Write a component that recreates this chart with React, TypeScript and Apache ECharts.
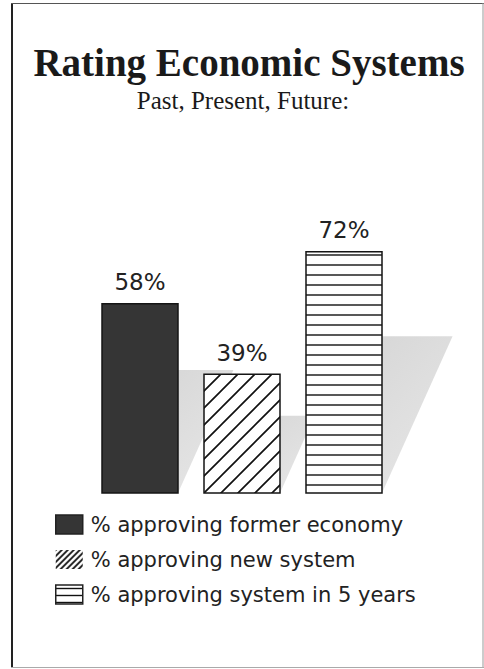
import React, { useEffect, useRef } from 'react';
import * as echarts from 'echarts';

const categories = ['Past', 'Present', 'Future'];
const seriesNames = [
  '% approving former economy',
  '% approving new system',
  '% approving system in 5 years',
];
const values = [58, 39, 72];
const titleText = 'Rating Economic Systems';
const subtitleText = 'Past, Present, Future:';

const AXIS_MIN = 7;
const AXIS_MAX = 80;
const BAR_W = 76;

type Pat = { image: HTMLCanvasElement; repeat: string; imageWidth: number; imageHeight: number };

function makePattern(size: number, kind: 'h' | 'd', lw: number): Pat {
  const c = document.createElement('canvas');
  c.width = size;
  c.height = size;
  const ctx = c.getContext('2d')!;
  ctx.fillStyle = '#ffffff';
  ctx.fillRect(0, 0, size, size);
  ctx.strokeStyle = '#111111';
  ctx.lineWidth = lw;
  ctx.beginPath();
  if (kind === 'h') {
    ctx.moveTo(0, size / 2);
    ctx.lineTo(size, size / 2);
  } else {
    ctx.moveTo(0, size);
    ctx.lineTo(size, 0);
    ctx.moveTo(-size, size);
    ctx.lineTo(size, -size);
    ctx.moveTo(0, 2 * size);
    ctx.lineTo(2 * size, 0);
  }
  ctx.stroke();
  return { image: c, repeat: 'repeat', imageWidth: size, imageHeight: size };
}

export default function App() {
  const ref = useRef<HTMLDivElement>(null);

  useEffect(() => {
    if (!ref.current) return;
    document.body.style.margin = '0';
    const chart = echarts.init(ref.current, undefined, { renderer: 'svg' });

    const barFills: any[] = ['#353535', makePattern(17, 'd', 1.7), makePattern(10, 'h', 1.4)];
    const legendFills: any[] = ['#353535', makePattern(6, 'd', 1.8), makePattern(7, 'h', 1.4)];

    const series = seriesNames.map((name, i) => ({
      type: 'custom',
      name,
      silent: true,
      itemStyle: { color: legendFills[i] },
      encode: { x: 0, y: 1 },
      data: [[i, values[i]]],
      renderItem: (params: any, api: any) => {
        const ci = api.value(0);
        const v = api.value(1);
        const top = api.coord([ci, v]);
        const bot = api.coord([ci, AXIS_MIN]);
        const L = top[0] - BAR_W / 2;
        const h = bot[1] - top[1];
        const sh = h * 0.65;
        const dx = sh * 0.45;
        return {
          type: 'group',
          children: [
            {
              type: 'polygon',
              shape: {
                points: [
                  [L, bot[1]],
                  [L + BAR_W, bot[1]],
                  [L + BAR_W + dx, bot[1] - sh],
                  [L + dx, bot[1] - sh],
                ],
              },
              style: {
                fill: new echarts.graphic.LinearGradient(0, 0, 1, 1, [
                  { offset: 0, color: '#d2d2d2' },
                  { offset: 1, color: '#e8e8e8' },
                ]),
              },
            },
            {
              type: 'rect',
              shape: { x: L, y: top[1], width: BAR_W, height: h },
              style: { fill: barFills[i], stroke: '#151515', lineWidth: 1.5 },
            },
            {
              type: 'text',
              x: top[0],
              y: top[1] - 10,
              style: {
                text: v + '%',
                align: 'center',
                verticalAlign: 'bottom',
                fontSize: 23,
                fontFamily: 'DejaVu Sans',
                fill: '#222',
              },
            },
          ],
        };
      },
    }));

    chart.setOption({
      animation: false,
      grid: { left: 89, right: 89, top: 222, bottom: 176 },
      xAxis: { type: 'category', data: categories, show: false },
      yAxis: { type: 'value', min: AXIS_MIN, max: AXIS_MAX, show: false },
      legend: {
        orient: 'vertical',
        left: 50,
        top: 509,
        itemWidth: 27,
        itemHeight: 19,
        itemGap: 14,
        selectedMode: false,
        icon: 'rect',
        data: seriesNames.map((n, i) => ({
          name: n,
          itemStyle: {
            color: legendFills[i],
            borderColor: '#222',
            borderWidth: i === 1 ? 0 : 1.5,
          },
        })),
        textStyle: { fontSize: 21, fontFamily: 'DejaVu Sans', color: '#222', padding: [0, 0, 0, 3] },
      },
      graphic: [
        { type: 'line', shape: { x1: 12, y1: 3, x2: 12, y2: 668 }, style: { stroke: '#222', lineWidth: 2 } },
        { type: 'line', shape: { x1: 11, y1: 3.5, x2: 484, y2: 3.5 }, style: { stroke: '#555', lineWidth: 1.2 } },
        { type: 'line', shape: { x1: 483, y1: 3, x2: 483, y2: 668 }, style: { stroke: '#999', lineWidth: 1 } },
        { type: 'line', shape: { x1: 11, y1: 667.5, x2: 484, y2: 667.5 }, style: { stroke: '#aaa', lineWidth: 1 } },
        {
          type: 'text',
          x: 249,
          y: 62,
          style: {
            text: titleText,
            align: 'center',
            verticalAlign: 'middle',
            fontSize: 39,
            fontWeight: 'bold',
            fontFamily: 'Liberation Serif',
            fill: '#1a1a1a',
          },
        },
        {
          type: 'text',
          x: 243,
          y: 100,
          style: {
            text: subtitleText,
            align: 'center',
            verticalAlign: 'middle',
            fontSize: 25,
            fontFamily: 'Liberation Serif',
            fill: '#1a1a1a',
          },
        },
      ],
      series,
    });

    return () => chart.dispose();
  }, []);

  return <div ref={ref} style={{ position: 'absolute', left: 0, top: 0, width: 484, height: 669 }} />;
}
